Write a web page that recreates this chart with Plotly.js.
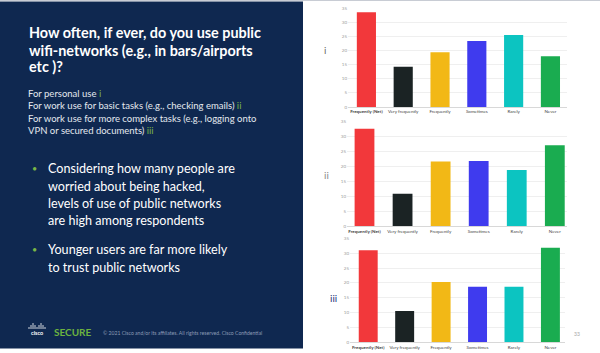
<!DOCTYPE html>
<html>
<head>
<meta charset="utf-8">
<script src="https://cdn.plot.ly/plotly-3.0.1.min.js"></script>
<style>
html,body{margin:0;padding:0;background:#fff;}
#chart{width:600px;height:353px;}
</style>
</head>
<body>
<div id="chart"></div>
<script>
// ---- data ----
const categories = ["Frequently (Net)", "Very frequently", "Frequently", "Sometimes", "Rarely", "Never"];
const personalUse = [33.6, 14.3, 19.4, 23.4, 25.5, 18.0];      // i
const workBasicUse = [32.4, 10.8, 21.5, 21.7, 18.7, 26.9];     // ii
const workComplexUse = [31.0, 10.5, 20.3, 18.7, 18.7, 31.8];   // iii
const panelLabels = ["i", "ii", "iii"];
const yTickVals = [0, 5, 10, 15, 20, 25, 30, 35];

const barColors = ["#f2383b", "#1b2324", "#f2b816", "#3f3bee", "#0cc4c1", "#1aac50"];

const W = 600, H = 353;
const px = x => x / W;
const py = y => 1 - y / H;

const series = [personalUse, workBasicUse, workComplexUse];
const axisSuffix = ["", "2", "3"];
// plot geometry per panel: [left px, right px, zero px, top(35) px, xrange]
const geom = [
  [348, 567, 107, 8.3, [-0.5, 5.45]],
  [347, 567, 226.3, 121, [-0.46, 5.32]],
  [350, 565, 342.3, 238.3, [-0.5, 5.4]]
];

const traces = series.map((vals, i) => ({
  type: "bar",
  x: categories,
  y: vals,
  xaxis: "x" + axisSuffix[i],
  yaxis: "y" + axisSuffix[i],
  width: 0.52,
  marker: {color: barColors},
  hoverinfo: "x+y",
  showlegend: false
}));

const layout = {
  width: W, height: H,
  margin: {l: 0, r: 0, t: 0, b: 0},
  paper_bgcolor: "#ffffff",
  plot_bgcolor: "rgba(0,0,0,0)",
  font: {family: "Lato, 'Open Sans', sans-serif"},
  shapes: [],
  annotations: []
};

const tickText = categories.map((c, i) => i === 0 ? "<b>" + c + "</b>" : c);

geom.forEach((g, i) => {
  const s = axisSuffix[i];
  layout["xaxis" + s] = {
    domain: [px(g[0]), px(g[1])],
    anchor: "y" + s,
    range: g[4],
    type: "category",
    tickvals: categories,
    ticktext: tickText,
    tickfont: {size: 4.5, color: "#444"},
    showgrid: false,
    showline: true,
    linecolor: "#d8d8d8",
    linewidth: 1,
    ticks: "",
    ticklen: 0,
    fixedrange: true
  };
  layout["yaxis" + s] = {
    domain: [py(g[2]), py(g[3])],
    anchor: "x" + s,
    range: [0, 35],
    tickvals: yTickVals,
    tickfont: {size: 4.5, color: "#9a9a9a"},
    gridcolor: "#efefef",
    gridwidth: 1,
    zeroline: false,
    showline: false,
    ticks: "",
    fixedrange: true
  };
});

// left navy panel
layout.shapes.push({type: "rect", xref: "paper", yref: "paper",
  x0: 0, x1: px(303), y0: py(348.5), y1: py(1.5),
  fillcolor: "#0f2850", line: {width: 0}, layer: "below"});
layout.shapes.push({type: "line", xref: "paper", yref: "paper",
  x0: 0, x1: 1, y0: py(0.5), y1: py(0.5), line: {color: "#c8ccd4", width: 1}});

function txt(text, x, y, size, color, opts) {
  layout.annotations.push(Object.assign({
    text: text, xref: "paper", yref: "paper",
    x: px(x), y: py(y), xanchor: "left", yanchor: "middle",
    showarrow: false,
    font: {size: size, color: color, family: "Lato, 'Open Sans', sans-serif"}
  }, opts || {}));
}

// title
const titleLines = ["How often, if ever, do you use public", "wifi-networks (e.g., in bars/airports", "etc )?"];
const titleY = [33, 50, 66.5];
titleLines.forEach((t, i) => txt("<b>" + t + "</b>", 27, titleY[i], 14.4, "#ffffff"));

// sub lines
const green = "#79b646";
const subLines = [
  "For personal use <span style='color:" + green + "'>i</span>",
  "For work use for basic tasks (e.g., checking emails) <span style='color:" + green + "'>ii</span>",
  "For work use for more complex tasks (e.g., logging onto",
  "VPN or secured documents) <span style='color:" + green + "'>iii</span>"
];
const subY = [93.5, 106, 118, 130.5];
subLines.forEach((t, i) => txt(t, 26, subY[i], 9.5, "#e4e8ef"));

// bullets
const bullets = [
  ["Considering how many people are", "worried about being hacked,", "levels of use of public networks", "are high among respondents"],
  ["Younger users are far more likely", "to trust public networks"]
];
const bulletY = [[168.5, 186, 203.5, 221], [249.5, 267]];
bullets.forEach((b, bi) => {
  txt("•", 30, bulletY[bi][0], 9, green);
  b.forEach((line, li) => txt(line, 46, bulletY[bi][li], 12.6, "#ffffff"));
});

// footer
const logoBars = [[29, 2], [31, 4], [33, 6], [35, 4], [37, 2], [39, 4], [41, 6], [43, 4], [45, 2]];
logoBars.forEach(b => layout.shapes.push({type: "line", xref: "paper", yref: "paper",
  x0: px(b[0]), x1: px(b[0]), y0: py(329), y1: py(329 - b[1]), line: {color: "#ffffff", width: 0.8}}));
txt("<b>cisco</b>", 37, 333, 5.5, "#ffffff", {xanchor: "center"});
txt("<b>SECURE</b>", 52, 332, 10, "#6cb33f");
txt("© 2021 Cisco and/or its affiliates. All rights reserved. Cisco Confidential", 101, 332.5, 5.1, "#8d9bb6");

// page number
txt("33", 577, 333.5, 5, "#a8a8a8", {xanchor: "center"});

// panel labels
const labelPos = [[325, 50, "#6a6a6a"], [326, 175, "#8a8a8a"], [333, 298, "#24387a"]];
panelLabels.forEach((l, i) => txt(l, labelPos[i][0], labelPos[i][1], 10, labelPos[i][2], {xanchor: "center"}));

Plotly.newPlot("chart", traces, layout, {displayModeBar: false, staticPlot: true});
</script>
</body>
</html>
